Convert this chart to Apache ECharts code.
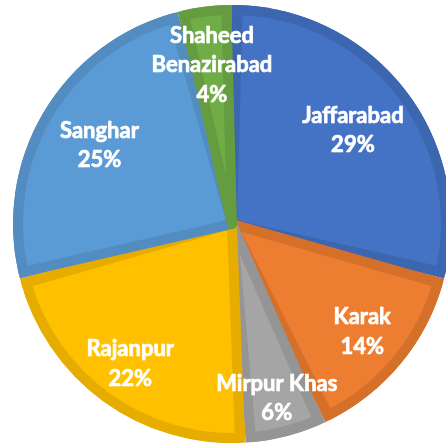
<!DOCTYPE html>
<html>
<head>
<meta charset="utf-8">
<script src="https://cdn.jsdelivr.net/npm/echarts@6/dist/echarts.min.js"></script>
<style>
html,body{margin:0;padding:0;background:#fff;}
#chart{width:446px;height:444px;}
</style>
</head>
<body>
<div id="chart"></div>
<script>
const categories = ['Jaffarabad', 'Karak', 'Mirpur Khas', 'Rajanpur', 'Sanghar', 'Shaheed Benazirabad'];
const shares = [29, 14, 6, 22, 25, 4];
const fillColors = ['#4472C4', '#ED7D31', '#A5A5A5', '#FFC000', '#5B9BD5', '#70AD47'];
const edgeColors = ['#3D66B0', '#D5702B', '#959595', '#E6AD00', '#528CC0', '#659C40'];
// radial distance of each label's centre from the pie centre (layout/style)
const labelRadius = [153, 169, 180, 173, 154, 160];

const chart = echarts.init(document.getElementById('chart'), null, {renderer: 'canvas'});
const center = [232, 224];
const R = 219;

function items(colors, extra) {
  return categories.map((n, i) => ({
    name: n, value: shares[i],
    itemStyle: Object.assign({color: colors[i]}, extra ? extra(i) : {})
  }));
}

const total = shares.reduce((a, b) => a + b, 0);
function midAngle(i) {
  let before = 0;
  for (let k = 0; k < i; k++) before += shares[k];
  return (before + shares[i] / 2) / total * 2 * Math.PI;
}

chart.setOption({
  animation: false,
  series: [
    {
      type: 'pie', center: center, radius: R, startAngle: 90, clockwise: true,
      silent: true, label: {show: false}, labelLine: {show: false},
      emphasis: {disabled: true},
      data: items(edgeColors)
    },
    {
      type: 'pie', center: center, radius: R - 5, startAngle: 90, clockwise: true,
      padAngle: 3, silent: true, label: {show: false}, labelLine: {show: false},
      emphasis: {disabled: true},
      data: items(fillColors, i => ({borderColor: edgeColors[i], borderWidth: 10, borderJoin: 'round'}))
    },
    {
      type: 'pie', center: center, radius: [115, R], startAngle: 90, clockwise: true,
      silent: true, z: 5, labelLine: {show: false},
      emphasis: {disabled: true},
      itemStyle: {color: 'rgba(0,0,0,0)'},
      label: {
        show: true, position: 'inside', color: '#fff',
        fontFamily: 'Lato', fontWeight: 'bold', fontSize: 22, lineHeight: 29.5,
        textBorderColor: '#fff', textBorderWidth: 0.7,
        align: 'center', verticalAlign: 'middle',
        formatter: p => (p.name.length > 12 ? p.name.replace(' ', '\n') : p.name) + '\n' + p.value + '%'
      },
      labelLayout: function (params) {
        const i = params.dataIndex;
        const a = midAngle(i);
        return {
          x: center[0] + labelRadius[i] * Math.sin(a),
          y: center[1] - labelRadius[i] * Math.cos(a),
          align: 'center', verticalAlign: 'middle'
        };
      },
      data: categories.map((n, i) => ({name: n, value: shares[i]}))
    }
  ]
});
</script>
</body>
</html>
